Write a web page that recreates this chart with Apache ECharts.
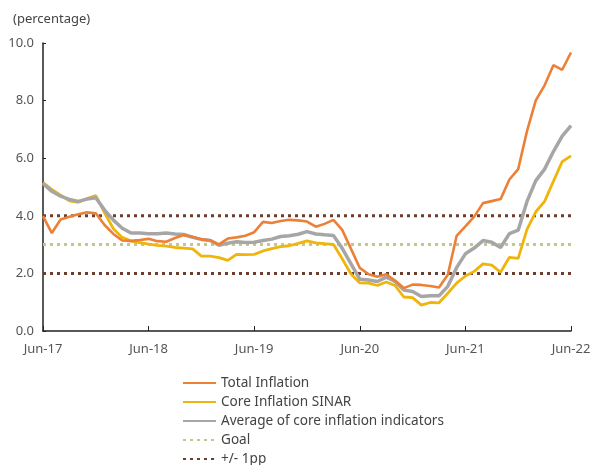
<!DOCTYPE html>
<html>
<head>
<meta charset="utf-8">
<script src="https://cdn.jsdelivr.net/npm/echarts@6/dist/echarts.min.js"></script>
<style>
  html, body { margin: 0; padding: 0; background: #fff; }
  #main { width: 594px; height: 465px; }
</style>
</head>
<body>
<div id="main"></div>
<script>
// monthly values, Jun-17 .. Jun-22 (61 months)
var tickLabels = ["Jun-17", "Jun-18", "Jun-19", "Jun-20", "Jun-21", "Jun-22"];

var totalInflation = [
  3.99, 3.40, 3.87, 3.97, 4.05, 4.12, 4.09, 3.68, 3.37, 3.14, 3.13, 3.16,
  3.20, 3.12, 3.10, 3.23, 3.33, 3.27, 3.18, 3.15, 3.01, 3.21, 3.25, 3.31,
  3.43, 3.79, 3.75, 3.82, 3.86, 3.84, 3.80, 3.62, 3.72, 3.86, 3.51, 2.85,
  2.19, 1.97, 1.88, 1.97, 1.75, 1.49, 1.61, 1.60, 1.56, 1.51, 1.95, 3.30,
  3.63, 3.97, 4.44, 4.51, 4.58, 5.26, 5.62, 6.94, 8.01, 8.53, 9.23, 9.07,
  9.67
];

var coreSinar = [
  5.15, 4.92, 4.72, 4.52, 4.47, 4.60, 4.70, 4.10, 3.55, 3.25, 3.12, 3.07,
  3.02, 2.97, 2.95, 2.90, 2.88, 2.85, 2.60, 2.60, 2.55, 2.45, 2.66, 2.65,
  2.66, 2.78, 2.86, 2.93, 2.96, 3.04, 3.13, 3.06, 3.03, 3.01, 2.51, 1.98,
  1.67, 1.66, 1.58, 1.70, 1.58, 1.18, 1.16, 0.90, 0.99, 0.98, 1.31, 1.66,
  1.91, 2.07, 2.33, 2.29, 2.04, 2.56, 2.52, 3.53, 4.14, 4.50, 5.20, 5.88,
  6.08
];

var coreAverage = [
  5.12, 4.85, 4.68, 4.57, 4.50, 4.58, 4.63, 4.20, 3.85, 3.57, 3.40, 3.40,
  3.38, 3.38, 3.40, 3.37, 3.35, 3.25, 3.18, 3.14, 2.98, 3.05, 3.10, 3.07,
  3.08, 3.14, 3.19, 3.28, 3.31, 3.36, 3.45, 3.37, 3.34, 3.32, 2.87, 2.33,
  1.80, 1.77, 1.72, 1.87, 1.72, 1.42, 1.37, 1.20, 1.22, 1.22, 1.55, 2.20,
  2.68, 2.88, 3.14, 3.08, 2.90, 3.38, 3.50, 4.50, 5.22, 5.62, 6.23, 6.77,
  7.13
];

var goal = 3;
var bandLow = 2;
var bandHigh = 4;

// month labels for the category axis
var monthNames = ["Jan", "Feb", "Mar", "Apr", "May", "Jun", "Jul", "Aug", "Sep", "Oct", "Nov", "Dec"];
var months = [];
for (var i = 0; i < totalInflation.length; i++) {
  var m = (5 + i) % 12;
  var y = 17 + Math.floor((5 + i) / 12);
  months.push(monthNames[m] + "-" + y);
}

function flat(v) {
  return months.map(function () { return v; });
}

var chartDom = document.getElementById("main");
var myChart = echarts.init(chartDom);
var font = "'Noto Sans', sans-serif";

var option = {
  animation: false,
  textStyle: { fontFamily: font },
  title: {
    text: "(percentage)",
    left: 8,
    top: 8,
    textStyle: { fontSize: 13, fontWeight: "normal", color: "#444", fontFamily: font }
  },
  legend: {
    orient: "vertical",
    left: 177,
    top: 371,
    height: 120,
    itemWidth: 33,
    itemHeight: 14,
    itemGap: 5,
    itemStyle: { opacity: 0 },
    data: ["Total Inflation", "Core Inflation SINAR", "Average of core inflation indicators", "Goal", "+/- 1pp"],
    textStyle: { fontSize: 13.6, color: "#444", lineHeight: 14, fontFamily: font }
  },
  grid: { left: 43, right: 23, top: 43, height: 288 },
  xAxis: {
    type: "category",
    data: months,
    boundaryGap: false,
    axisLine: { lineStyle: { color: "#222", width: 1.5 } },
    axisTick: { inside: true, length: 5, interval: 11, lineStyle: { color: "#222" } },
    axisLabel: {
      interval: 11,
      margin: 12,
      fontSize: 13,
      color: "#555",
      formatter: function (v) { return tickLabels.indexOf(v) >= 0 ? v : ""; }
    },
    splitLine: { show: false }
  },
  yAxis: {
    type: "value",
    min: 0,
    max: 10,
    interval: 2,
    axisLine: { show: true, lineStyle: { color: "#222", width: 1.5 } },
    axisTick: { show: true, inside: true, length: 3, lineStyle: { color: "#222" } },
    axisLabel: { fontSize: 13, color: "#555", margin: 9, formatter: function (v) { return v.toFixed(1); } },
    splitLine: { show: false }
  },
  series: [
    {
      name: "Goal", type: "line", data: flat(goal), symbol: "none", z: 1,
      lineStyle: { color: "#C3C88A", width: 3, type: [3, 4], cap: "butt" },
      itemStyle: { color: "#C3C88A" }
    },
    {
      name: "+/- 1pp", type: "line", data: flat(bandHigh), symbol: "none", z: 1,
      lineStyle: { color: "#6E3E2C", width: 3, type: [3, 4], cap: "butt" },
      itemStyle: { color: "#6E3E2C" }
    },
    {
      name: "+/- 1pp", type: "line", data: flat(bandLow), symbol: "none", z: 1,
      lineStyle: { color: "#6E3E2C", width: 3, type: [3, 4], cap: "butt" },
      itemStyle: { color: "#6E3E2C" }
    },
    {
      name: "Core Inflation SINAR", type: "line", data: coreSinar, symbol: "none", z: 2,
      lineStyle: { color: "#EFB50C", width: 2.8 },
      itemStyle: { color: "#EFB50C" }
    },
    {
      name: "Average of core inflation indicators", type: "line", data: coreAverage, symbol: "none", z: 3,
      lineStyle: { color: "#A6A6A6", width: 3.5 },
      itemStyle: { color: "#A6A6A6" }
    },
    {
      name: "Total Inflation", type: "line", data: totalInflation, symbol: "none", z: 4,
      lineStyle: { color: "#EC8036", width: 2.6 },
      itemStyle: { color: "#EC8036" }
    }
  ]
};

option && myChart.setOption(option);
</script>
</body>
</html>
